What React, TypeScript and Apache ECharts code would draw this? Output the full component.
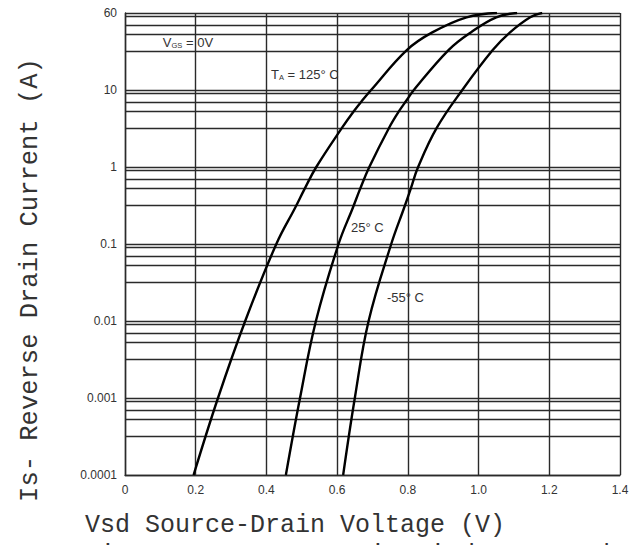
import React, { useEffect, useRef } from "react";
import * as echarts from "echarts";

// Curve data: Vsd (V) and Is (A)
const v125 = [0.194, 0.263, 0.34, 0.428, 0.482, 0.508, 0.541, 0.614, 0.646, 0.672, 0.696, 0.797, 0.869, 0.966, 1.052];
const i125 = [0.0001, 0.001, 0.01, 0.1, 0.3, 0.52, 1, 3.24, 5.23, 7.41, 10, 33, 56, 88, 100];

const v25 = [0.455, 0.495, 0.54, 0.604, 0.645, 0.665, 0.691, 0.747, 0.774, 0.797, 0.817, 0.915, 0.978, 1.05, 1.109];
const i25 = [0.0001, 0.001, 0.01, 0.1, 0.3, 0.52, 1, 3.24, 5.23, 7.41, 10, 33, 56, 88, 100];

const vm55 = [0.617, 0.65, 0.689, 0.753, 0.79, 0.808, 0.829, 0.882, 0.954, 1.04, 1.089, 1.146, 1.18];
const im55 = [0.0001, 0.001, 0.01, 0.1, 0.3, 0.52, 1, 3.24, 10, 33, 56, 88, 100];

// Axis ranges / tick labels
const xTicks = [0, 0.2, 0.4, 0.6, 0.8, 1.0, 1.2, 1.4];
const yMin = 0.0001;
const yMax = 100;
const topLabel = "60";

// Minor horizontal grid lines: decade tops and the fractions at which lines are drawn below them
const decadeTops = [0.001, 0.01, 0.1, 1, 10, 100];
const minorFractions = [0.9, 0.69, 0.53, 0.32];

// Annotations [V, I, text]
const notes: [number, number, string][] = [
  [0.107, 42, "{v|V}{s|GS}{v| = 0V}"],
  [0.413, 16.1, "{v|T}{s|A}{v| = 125° C}"],
  [0.639, 0.166, "{v|25° C}"],
  [0.741, 0.0205, "{v|-55° C}"],
];

const zip = (a: number[], b: number[]) => a.map((x, k) => [x, b[k]]);

const labelFont = "'Liberation Sans Narrow', 'Liberation Sans', Arial, sans-serif";
const titleFont = "'Liberation Mono', 'DejaVu Sans Mono', monospace";

export default function App() {
  const ref = useRef<HTMLDivElement>(null);
  useEffect(() => {
    if (!ref.current) return;
    const chart = echarts.init(ref.current, undefined, { renderer: "svg" });
    const minorLines: any[] = [];
    decadeTops.forEach((t) => minorFractions.forEach((f) => minorLines.push({ yAxis: t * f })));
    const lineStyle = { color: "#000", width: 2.4 };
    const gridColor = "#2a2a2a";
    const curve = (name: string, v: number[], i: number[]) => ({
      name,
      type: "line",
      data: zip(v, i),
      smooth: 0.4,
      showSymbol: false,
      symbol: "none",
      lineStyle,
      z: 5,
    });
    chart.setOption({
      animation: false,
      backgroundColor: "#fff",
      grid: { left: 125, right: 23, top: 13, bottom: 70, containLabel: false },
      xAxis: {
        type: "value",
        min: xTicks[0],
        max: xTicks[xTicks.length - 1],
        interval: 0.2,
        axisLine: { show: true, lineStyle: { color: gridColor, width: 1.4 } },
        axisTick: { show: false },
        splitLine: { show: true, lineStyle: { color: gridColor, width: 1.4 } },
        axisLabel: {
          color: "#333",
          fontSize: 12,
          fontFamily: labelFont,
          margin: 9,
          formatter: (v: number) => (Math.abs(v) < 1e-9 ? "0" : v.toFixed(1)),
        },
      },
      yAxis: {
        type: "log",
        logBase: 10,
        min: yMin,
        max: yMax,
        axisLine: { show: true, lineStyle: { color: gridColor, width: 1.4 } },
        axisTick: { show: false },
        splitLine: { show: true, lineStyle: { color: gridColor, width: 1.4 } },
        axisLabel: {
          color: "#333",
          fontSize: 12,
          fontFamily: labelFont,
          margin: 8,
          formatter: (val: number) => {
            const e = Math.round(Math.log10(val));
            if (e === 2) return topLabel;
            if (e >= 0) return String(Math.pow(10, e));
            return "0." + "0".repeat(-e - 1) + "1";
          },
        },
      },
      series: [
        {
          ...curve("125", v125, i125),
          markLine: {
            silent: true,
            precision: 12,
            symbol: ["none", "none"],
            label: { show: false },
            lineStyle: { color: gridColor, width: 1.4, type: "solid" },
            data: minorLines,
            z: 1,
          },
          markPoint: {
            silent: true,
            symbol: "circle",
            symbolSize: 0,
            data: notes.map(([v, i, t]) => ({
              coord: [v, i],
              label: {
                show: true,
                formatter: t,
                position: [0, 0],
                align: "left",
                verticalAlign: "middle",
                rich: {
                  v: { fontSize: 13, color: "#333", fontFamily: labelFont, verticalAlign: "bottom", lineHeight: 14 },
                  s: { fontSize: 7.5, color: "#333", fontFamily: labelFont, verticalAlign: "bottom", lineHeight: 10 },
                },
              },
            })),
          },
        },
        curve("25", v25, i25),
        curve("-55", vm55, im55),
      ],
      graphic: [
        {
          type: "text",
          x: 30,
          y: 280,
          rotation: Math.PI / 2,
          style: {
            text: "Is- Reverse Drain Current (A)",
            fontSize: 25.5,
            fontFamily: titleFont,
            fill: "#333",
            textAlign: "center",
            textVerticalAlign: "middle",
          },
        },
        {
          type: "text",
          x: 85,
          y: 525,
          style: {
            text: "Vsd Source-Drain Voltage (V)",
            fontSize: 25,
            fontFamily: titleFont,
            fill: "#333",
            textAlign: "left",
            textVerticalAlign: "middle",
          },
        },
        {
          type: "text",
          x: 85,
          y: 555,
          style: {
            text: "Figure 3 Source-Drain Diode Forward Voltage",
            fontSize: 25,
            fontFamily: titleFont,
            fill: "#333",
            textAlign: "left",
            textVerticalAlign: "middle",
          },
        },
      ],
    });
    return () => chart.dispose();
  }, []);
  return <div ref={ref} style={{ position: "fixed", left: 0, top: 0, width: 643, height: 545, background: "#fff" }} />;
}
